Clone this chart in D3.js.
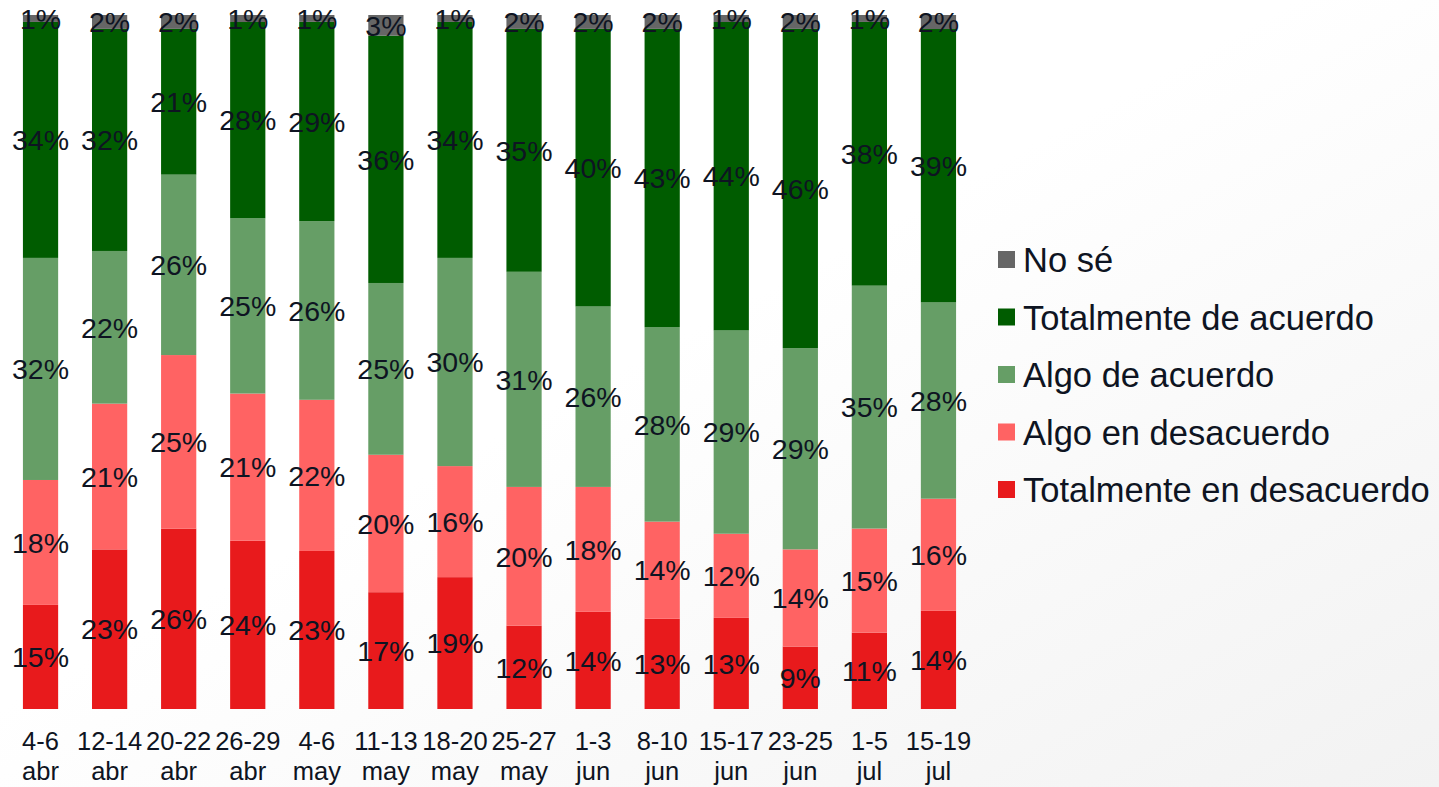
<!DOCTYPE html>
<html>
<head>
<meta charset="utf-8">
<script src="https://cdn.jsdelivr.net/npm/d3@7"></script>
<style>
  body { margin: 0; overflow: hidden; }
  text { font-family: "Liberation Sans", Arial, sans-serif; }
</style>
</head>
<body>
<div id="chart"></div>
<script>
var periods = ["4-6|abr", "12-14|abr", "20-22|abr", "26-29|abr", "4-6|may", "11-13|may", "18-20|may",
               "25-27|may", "1-3|jun", "8-10|jun", "15-17|jun", "23-25|jun", "1-5|jul", "15-19|jul"];
var series = ["Totalmente en desacuerdo", "Algo en desacuerdo", "Algo de acuerdo", "Totalmente de acuerdo", "No sé"];
var totalDesacuerdo = [15, 23, 26, 24, 23, 17, 19, 12, 14, 13, 13, 9, 11, 14];
var algoDesacuerdo  = [18, 21, 25, 21, 22, 20, 16, 20, 18, 14, 12, 14, 15, 16];
var algoAcuerdo     = [32, 22, 26, 25, 26, 25, 30, 31, 26, 28, 29, 29, 35, 28];
var totalAcuerdo    = [34, 32, 21, 28, 29, 36, 34, 35, 40, 43, 44, 46, 38, 39];
var noSe            = [1, 2, 2, 1, 1, 3, 1, 2, 2, 2, 1, 2, 1, 2];
var colors = ["#e81a1c", "#ff6363", "#669e66", "#005c00", "#666666"];

var width = 1439, height = 787;
var margin = {top: 15, left: 6, bottom: 78};
var plotRight = 973;

var rows = periods.map(function(p, i) {
  return {
    period: p,
    "Totalmente en desacuerdo": totalDesacuerdo[i],
    "Algo en desacuerdo": algoDesacuerdo[i],
    "Algo de acuerdo": algoAcuerdo[i],
    "Totalmente de acuerdo": totalAcuerdo[i],
    "No sé": noSe[i]
  };
});

var stack = d3.stack().keys(series).offset(d3.stackOffsetExpand);
var layers = stack(rows);

var x = d3.scaleBand()
    .domain(periods)
    .range([margin.left, plotRight])
    .paddingInner(0.49)
    .paddingOuter(0.245);

var y = d3.scaleLinear()
    .domain([0, 1])
    .range([height - margin.bottom, margin.top]);

var color = d3.scaleOrdinal().domain(series).range(colors);

var svg = d3.select("#chart").append("svg")
    .attr("width", width)
    .attr("height", height);

var grad = svg.append("defs").append("linearGradient")
    .attr("id", "bg")
    .attr("x1", "0%").attr("y1", "0%")
    .attr("x2", "100%").attr("y2", "100%");
grad.append("stop").attr("offset", "45%").attr("stop-color", "#ffffff");
grad.append("stop").attr("offset", "100%").attr("stop-color", "#f2f2f2");

svg.append("rect")
    .attr("width", width)
    .attr("height", height)
    .attr("fill", "url(#bg)");

// stacked bars
var layer = svg.selectAll("g.layer")
  .data(layers)
  .enter().append("g")
    .attr("class", "layer")
    .attr("fill", function(d) { return color(d.key); });

layer.selectAll("rect")
  .data(function(d) { return d; })
  .enter().append("rect")
    .attr("x", function(d) { return x(d.data.period); })
    .attr("y", function(d) { return y(d[1]); })
    .attr("width", x.bandwidth())
    .attr("height", function(d) { return y(d[0]) - y(d[1]); });

// value labels
layers.forEach(function(l) {
  svg.append("g").selectAll("text")
    .data(l)
    .enter().append("text")
      .attr("x", function(d) { return x(d.data.period) + x.bandwidth() / 2; })
      .attr("y", function(d) { return (y(d[0]) + y(d[1])) / 2; })
      .attr("dy", "0.36em")
      .attr("text-anchor", "middle")
      .attr("font-size", 28.5)
      .attr("fill", "#0e1422")
      .text(function(d) { return d.data[l.key] + "%"; });
});

// x axis labels (two lines)
var xAxis = svg.append("g")
    .attr("transform", "translate(0," + (height - margin.bottom) + ")")
    .call(d3.axisBottom(x).tickSize(0).tickPadding(0).tickFormat(""));
xAxis.select(".domain").remove();
xAxis.selectAll(".tick").each(function(p) {
  var parts = p.split("|");
  var t = d3.select(this).append("text")
      .attr("text-anchor", "middle")
      .attr("font-size", 25.5)
      .attr("fill", "#0e1422");
  t.append("tspan").attr("x", 0).attr("y", 41).text(parts[0]);
  t.append("tspan").attr("x", 0).attr("y", 71).text(parts[1]);
});

// legend
var legendItems = series.slice().reverse();
var legend = svg.append("g")
    .attr("transform", "translate(998,260)");
var item = legend.selectAll("g")
  .data(legendItems)
  .enter().append("g")
    .attr("transform", function(d, i) { return "translate(0," + (i * 57.5) + ")"; });
item.append("rect")
    .attr("x", 0)
    .attr("y", -9)
    .attr("width", 17)
    .attr("height", 17)
    .attr("fill", function(d) { return color(d); });
item.append("text")
    .attr("x", 25)
    .attr("y", 0)
    .attr("dy", "0.36em")
    .attr("font-size", 34.5)
    .attr("fill", "#0e1422")
    .text(function(d) { return d; });
</script>
</body>
</html>
